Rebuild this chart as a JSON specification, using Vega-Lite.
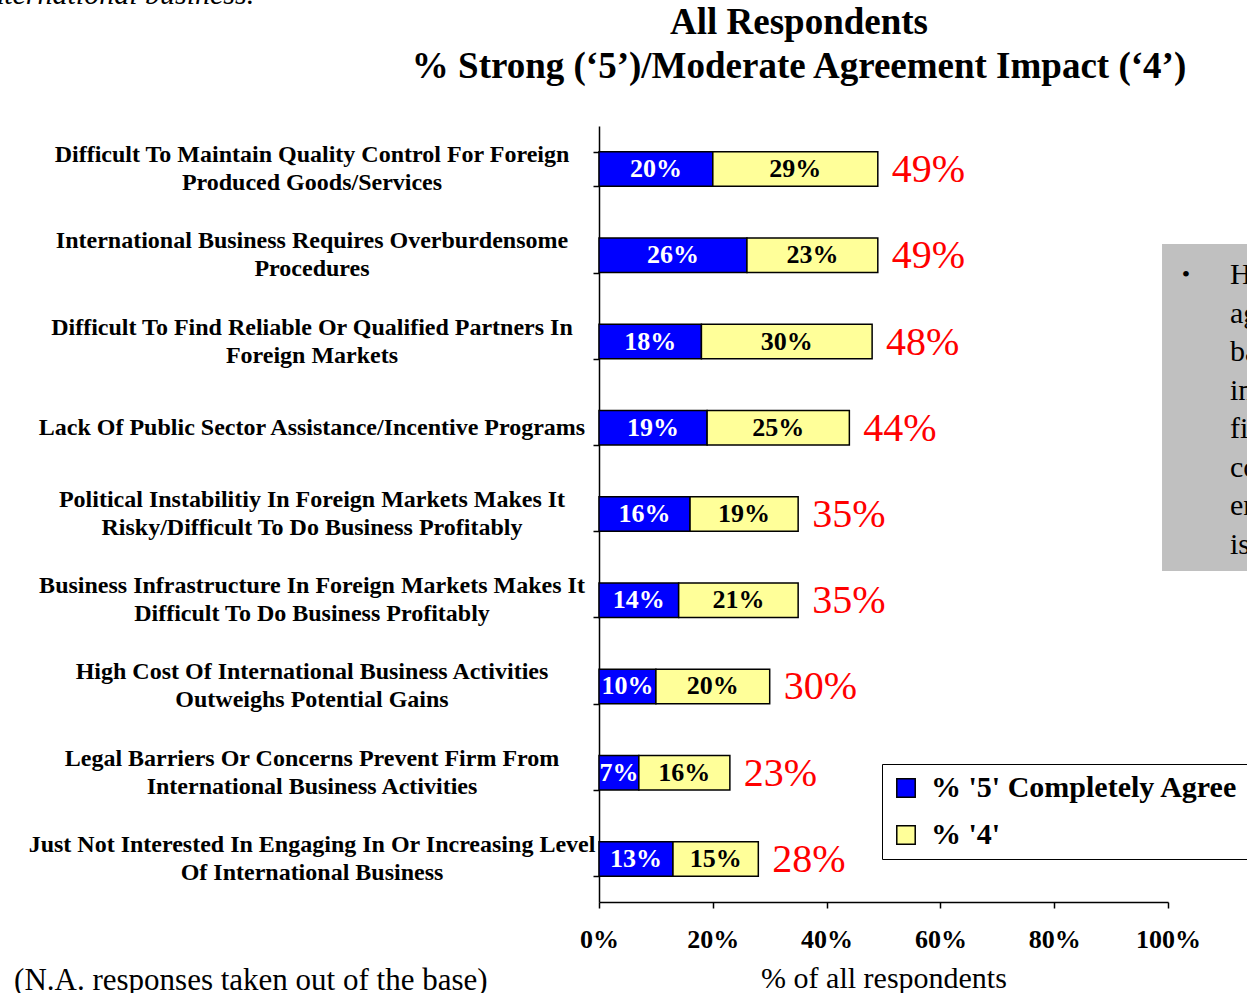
{
  "$schema": "https://vega.github.io/schema/vega-lite/v6.json",
  "width": 569,
  "height": 776,
  "autosize": {"type": "none"},
  "padding": {"left": 599, "top": 126, "right": 79, "bottom": 91},
  "background": "white",
  "config": {"view": {"stroke": null}, "axis": {"grid": false}},
  "datasets": {
    "bars": [
      {"cat": "Difficult To Maintain Quality Control For Foreign|Produced Goods/Services", "seg": "% '5' Completely Agree", "o": 1, "v": 0.20},
      {"cat": "Difficult To Maintain Quality Control For Foreign|Produced Goods/Services", "seg": "% '4'", "o": 2, "v": 0.29},
      {"cat": "International Business Requires Overburdensome|Procedures", "seg": "% '5' Completely Agree", "o": 1, "v": 0.26},
      {"cat": "International Business Requires Overburdensome|Procedures", "seg": "% '4'", "o": 2, "v": 0.23},
      {"cat": "Difficult To Find Reliable Or Qualified Partners In|Foreign Markets", "seg": "% '5' Completely Agree", "o": 1, "v": 0.18},
      {"cat": "Difficult To Find Reliable Or Qualified Partners In|Foreign Markets", "seg": "% '4'", "o": 2, "v": 0.30},
      {"cat": "Lack Of Public Sector Assistance/Incentive Programs", "seg": "% '5' Completely Agree", "o": 1, "v": 0.19},
      {"cat": "Lack Of Public Sector Assistance/Incentive Programs", "seg": "% '4'", "o": 2, "v": 0.25},
      {"cat": "Political Instabilitiy In Foreign Markets Makes It|Risky/Difficult To Do Business Profitably", "seg": "% '5' Completely Agree", "o": 1, "v": 0.16},
      {"cat": "Political Instabilitiy In Foreign Markets Makes It|Risky/Difficult To Do Business Profitably", "seg": "% '4'", "o": 2, "v": 0.19},
      {"cat": "Business Infrastructure In Foreign Markets Makes It|Difficult To Do Business Profitably", "seg": "% '5' Completely Agree", "o": 1, "v": 0.14},
      {"cat": "Business Infrastructure In Foreign Markets Makes It|Difficult To Do Business Profitably", "seg": "% '4'", "o": 2, "v": 0.21},
      {"cat": "High Cost Of International Business Activities|Outweighs Potential Gains", "seg": "% '5' Completely Agree", "o": 1, "v": 0.10},
      {"cat": "High Cost Of International Business Activities|Outweighs Potential Gains", "seg": "% '4'", "o": 2, "v": 0.20},
      {"cat": "Legal Barriers Or Concerns Prevent Firm From|International Business Activities", "seg": "% '5' Completely Agree", "o": 1, "v": 0.07},
      {"cat": "Legal Barriers Or Concerns Prevent Firm From|International Business Activities", "seg": "% '4'", "o": 2, "v": 0.16},
      {"cat": "Just Not Interested In Engaging In Or Increasing Level|Of International Business", "seg": "% '5' Completely Agree", "o": 1, "v": 0.13},
      {"cat": "Just Not Interested In Engaging In Or Increasing Level|Of International Business", "seg": "% '4'", "o": 2, "v": 0.15}
    ],
    "totals": [
      {"cat": "Difficult To Maintain Quality Control For Foreign|Produced Goods/Services", "t": 0.49},
      {"cat": "International Business Requires Overburdensome|Procedures", "t": 0.49},
      {"cat": "Difficult To Find Reliable Or Qualified Partners In|Foreign Markets", "t": 0.48},
      {"cat": "Lack Of Public Sector Assistance/Incentive Programs", "t": 0.44},
      {"cat": "Political Instabilitiy In Foreign Markets Makes It|Risky/Difficult To Do Business Profitably", "t": 0.35},
      {"cat": "Business Infrastructure In Foreign Markets Makes It|Difficult To Do Business Profitably", "t": 0.35},
      {"cat": "High Cost Of International Business Activities|Outweighs Potential Gains", "t": 0.30},
      {"cat": "Legal Barriers Or Concerns Prevent Firm From|International Business Activities", "t": 0.23},
      {"cat": "Just Not Interested In Engaging In Or Increasing Level|Of International Business", "t": 0.28}
    ]
  },
  "resolve": {"scale": {"y": "independent"}},
  "layer": [
    {
      "data": {"values": [{"k": 1}]},
      "mark": {"type": "rect", "color": "#C0C0C0"},
      "encoding": {
        "x": {"datum": 0.9895, "type": "quantitative", "scale": {"domain": [0, 1], "nice": false, "zero": false}},
        "x2": {"datum": 1.3},
        "y": {"datum": 1.369, "type": "quantitative", "scale": {"domain": [0, 9], "reverse": true, "nice": false, "zero": false}, "axis": null},
        "y2": {"datum": 5.161}
      }
    },
    {
      "data": {"values": [{"k": 1}]},
      "mark": {"type": "text", "text": "•", "font": "Liberation Serif", "fontSize": 24, "color": "black", "align": "center", "baseline": "middle"},
      "encoding": {
        "x": {"datum": 1.0316, "type": "quantitative", "scale": {"domain": [0, 1], "nice": false, "zero": false}},
        "y": {"datum": 1.728, "type": "quantitative", "scale": {"domain": [0, 9], "reverse": true, "nice": false, "zero": false}, "axis": null}
      }
    },
    {
      "data": {"values": [{"k": 1}]},
      "mark": {"type": "text", "text": ["However,", "agree", "barriers", "international", "firms", "concerned", "entering", "is"], "lineHeight": 38.5, "font": "Liberation Serif", "fontSize": 30, "color": "black", "align": "left", "baseline": "alphabetic"},
      "encoding": {
        "x": {"datum": 1.109, "type": "quantitative", "scale": {"domain": [0, 1], "nice": false, "zero": false}},
        "y": {"datum": 1.833, "type": "quantitative", "scale": {"domain": [0, 9], "reverse": true, "nice": false, "zero": false}, "axis": null}
      }
    },
    {
      "data": {"values": [{"k": 1}]},
      "mark": {"type": "text", "text": "in international business.", "font": "Liberation Serif", "fontSize": 30, "fontStyle": "italic", "color": "black", "align": "right", "baseline": "alphabetic"},
      "encoding": {
        "x": {"datum": -0.606, "type": "quantitative", "scale": {"domain": [0, 1], "nice": false, "zero": false}},
        "y": {"datum": -1.415, "type": "quantitative", "scale": {"domain": [0, 9], "reverse": true, "nice": false, "zero": false}, "axis": null}
      }
    },
    {
      "data": {"values": [{"k": 1}]},
      "mark": {"type": "text", "text": ["All Respondents", "% Strong (‘5’)/Moderate Agreement Impact (‘4’)"], "lineHeight": 44, "font": "Liberation Serif", "fontSize": 37, "fontWeight": "bold", "color": "black", "align": "center", "baseline": "alphabetic"},
      "encoding": {
        "x": {"datum": 0.3515, "type": "quantitative", "scale": {"domain": [0, 1], "nice": false, "zero": false}},
        "y": {"datum": -1.067, "type": "quantitative", "scale": {"domain": [0, 9], "reverse": true, "nice": false, "zero": false}, "axis": null}
      }
    },
    {
      "data": {"values": [{"k": 1}]},
      "mark": {"type": "text", "text": "(N.A. responses taken out of the base)", "font": "Liberation Serif", "fontSize": 31, "color": "black", "align": "left", "baseline": "alphabetic"},
      "encoding": {
        "x": {"datum": -1.028, "type": "quantitative", "scale": {"domain": [0, 1], "nice": false, "zero": false}},
        "y": {"datum": 10.02, "type": "quantitative", "scale": {"domain": [0, 9], "reverse": true, "nice": false, "zero": false}, "axis": null}
      }
    },
    {
      "data": {"name": "totals"},
      "transform": [
        {"filter": "indexof(datum.cat, '|') >= 0"},
        {"calculate": "split(datum.cat, '|')", "as": "lab"}
      ],
      "mark": {"type": "text", "font": "Liberation Serif", "fontSize": 24, "fontWeight": "bold", "color": "black", "align": "center", "baseline": "middle", "lineHeight": 28, "dy": -14},
      "encoding": {
        "y": {
          "field": "cat", "type": "nominal", "sort": null,
          "scale": {"domain": [
            "Difficult To Maintain Quality Control For Foreign|Produced Goods/Services",
            "International Business Requires Overburdensome|Procedures",
            "Difficult To Find Reliable Or Qualified Partners In|Foreign Markets",
            "Lack Of Public Sector Assistance/Incentive Programs",
            "Political Instabilitiy In Foreign Markets Makes It|Risky/Difficult To Do Business Profitably",
            "Business Infrastructure In Foreign Markets Makes It|Difficult To Do Business Profitably",
            "High Cost Of International Business Activities|Outweighs Potential Gains",
            "Legal Barriers Or Concerns Prevent Firm From|International Business Activities",
            "Just Not Interested In Engaging In Or Increasing Level|Of International Business"
          ], "paddingInner": 0.6, "paddingOuter": 0.3},
          "axis": null
        },
        "x": {"datum": -0.5044, "type": "quantitative", "scale": {"domain": [0, 1], "nice": false, "zero": false}},
        "text": {"field": "lab", "type": "nominal"}
      }
    },
    {
      "data": {"name": "totals"},
      "transform": [
        {"filter": "indexof(datum.cat, '|') < 0"}
      ],
      "mark": {"type": "text", "font": "Liberation Serif", "fontSize": 24, "fontWeight": "bold", "color": "black", "align": "center", "baseline": "middle"},
      "encoding": {
        "y": {
          "field": "cat", "type": "nominal", "sort": null,
          "scale": {"domain": [
            "Difficult To Maintain Quality Control For Foreign|Produced Goods/Services",
            "International Business Requires Overburdensome|Procedures",
            "Difficult To Find Reliable Or Qualified Partners In|Foreign Markets",
            "Lack Of Public Sector Assistance/Incentive Programs",
            "Political Instabilitiy In Foreign Markets Makes It|Risky/Difficult To Do Business Profitably",
            "Business Infrastructure In Foreign Markets Makes It|Difficult To Do Business Profitably",
            "High Cost Of International Business Activities|Outweighs Potential Gains",
            "Legal Barriers Or Concerns Prevent Firm From|International Business Activities",
            "Just Not Interested In Engaging In Or Increasing Level|Of International Business"
          ], "paddingInner": 0.6, "paddingOuter": 0.3},
          "axis": null
        },
        "x": {"datum": -0.5044, "type": "quantitative", "scale": {"domain": [0, 1], "nice": false, "zero": false}},
        "text": {"field": "cat", "type": "nominal"}
      }
    },
    {
      "data": {"name": "bars"},
      "mark": {"type": "bar", "stroke": "black", "strokeWidth": 1.5},
      "encoding": {
        "y": {
          "field": "cat", "type": "nominal",
          "sort": null,
          "scale": {"domain": [
            "Difficult To Maintain Quality Control For Foreign|Produced Goods/Services",
            "International Business Requires Overburdensome|Procedures",
            "Difficult To Find Reliable Or Qualified Partners In|Foreign Markets",
            "Lack Of Public Sector Assistance/Incentive Programs",
            "Political Instabilitiy In Foreign Markets Makes It|Risky/Difficult To Do Business Profitably",
            "Business Infrastructure In Foreign Markets Makes It|Difficult To Do Business Profitably",
            "High Cost Of International Business Activities|Outweighs Potential Gains",
            "Legal Barriers Or Concerns Prevent Firm From|International Business Activities",
            "Just Not Interested In Engaging In Or Increasing Level|Of International Business"
          ], "paddingInner": 0.6, "paddingOuter": 0.3},
          "axis": {
            "title": null,
            "labels": false,
            "tickBand": "extent",
            "tickSize": 6,
            "tickColor": "black",
            "tickWidth": 1.5,
            "domainColor": "black",
            "domainWidth": 1.5
          }
        },
        "x": {
          "field": "v", "type": "quantitative", "stack": "zero",
          "scale": {"domain": [0, 1], "nice": false, "zero": false},
          "axis": {
            "title": "% of all respondents",
            "values": [0, 0.2, 0.4, 0.6, 0.8, 1],
            "format": ".0%",
            "labelFont": "Liberation Serif",
            "labelFontSize": 26,
            "labelFontWeight": "bold",
            "labelColor": "black",
            "labelPadding": 18,
            "labelFlush": false,
            "tickSize": 6,
            "tickColor": "black",
            "tickWidth": 1.5,
            "domainColor": "black",
            "domainWidth": 1.5,
            "titleFont": "Liberation Serif",
            "titleFontSize": 30,
            "titleFontWeight": "normal",
            "titleColor": "black",
            "titlePadding": 11
          }
        },
        "order": {"field": "o"},
        "color": {
          "field": "seg", "type": "nominal",
          "scale": {"domain": ["% '5' Completely Agree", "% '4'"], "range": ["#0000FF", "#FFFF99"]},
          "legend": {
            "orient": "none",
            "legendX": 283,
            "legendY": 638,
            "title": null,
            "labelFont": "Liberation Serif",
            "labelFontSize": 30,
            "labelFontWeight": "bold",
            "labelColor": "black",
            "labelLimit": 1000,
            "labelOffset": 10,
            "symbolType": "square",
            "symbolSize": 340,
            "symbolStrokeColor": "black",
            "symbolStrokeWidth": 1.5,
            "symbolOpacity": 1,
            "strokeColor": "black",
            "fillColor": "white",
            "padding": 9,
            "rowPadding": 17
          }
        }
      }
    },
    {
      "data": {"name": "bars"},
      "transform": [
        {"stack": "v", "groupby": ["cat"], "sort": [{"field": "o"}], "as": ["v0", "v1"]},
        {"calculate": "(datum.v0 + datum.v1) / 2", "as": "mid"}
      ],
      "mark": {"type": "text", "font": "Liberation Serif", "fontSize": 26, "fontWeight": "bold", "baseline": "middle", "align": "center"},
      "encoding": {
        "y": {
          "field": "cat", "type": "nominal", "sort": null,
          "scale": {"domain": [
            "Difficult To Maintain Quality Control For Foreign|Produced Goods/Services",
            "International Business Requires Overburdensome|Procedures",
            "Difficult To Find Reliable Or Qualified Partners In|Foreign Markets",
            "Lack Of Public Sector Assistance/Incentive Programs",
            "Political Instabilitiy In Foreign Markets Makes It|Risky/Difficult To Do Business Profitably",
            "Business Infrastructure In Foreign Markets Makes It|Difficult To Do Business Profitably",
            "High Cost Of International Business Activities|Outweighs Potential Gains",
            "Legal Barriers Or Concerns Prevent Firm From|International Business Activities",
            "Just Not Interested In Engaging In Or Increasing Level|Of International Business"
          ], "paddingInner": 0.6, "paddingOuter": 0.3},
          "axis": null
        },
        "x": {"field": "mid", "type": "quantitative", "scale": {"domain": [0, 1], "nice": false, "zero": false}},
        "text": {"field": "v", "type": "quantitative", "format": ".0%"},
        "color": {"condition": {"test": "datum.o == 1", "value": "white"}, "value": "black"}
      }
    },
    {
      "data": {"name": "totals"},
      "mark": {"type": "text", "font": "Liberation Serif", "fontSize": 40, "color": "#FF0000", "align": "left", "baseline": "middle", "dx": 14, "dy": 1},
      "encoding": {
        "y": {
          "field": "cat", "type": "nominal", "sort": null,
          "scale": {"domain": [
            "Difficult To Maintain Quality Control For Foreign|Produced Goods/Services",
            "International Business Requires Overburdensome|Procedures",
            "Difficult To Find Reliable Or Qualified Partners In|Foreign Markets",
            "Lack Of Public Sector Assistance/Incentive Programs",
            "Political Instabilitiy In Foreign Markets Makes It|Risky/Difficult To Do Business Profitably",
            "Business Infrastructure In Foreign Markets Makes It|Difficult To Do Business Profitably",
            "High Cost Of International Business Activities|Outweighs Potential Gains",
            "Legal Barriers Or Concerns Prevent Firm From|International Business Activities",
            "Just Not Interested In Engaging In Or Increasing Level|Of International Business"
          ], "paddingInner": 0.6, "paddingOuter": 0.3},
          "axis": null
        },
        "x": {"field": "t", "type": "quantitative", "scale": {"domain": [0, 1], "nice": false, "zero": false}},
        "text": {"field": "t", "type": "quantitative", "format": ".0%"}
      }
    }
  ]
}
